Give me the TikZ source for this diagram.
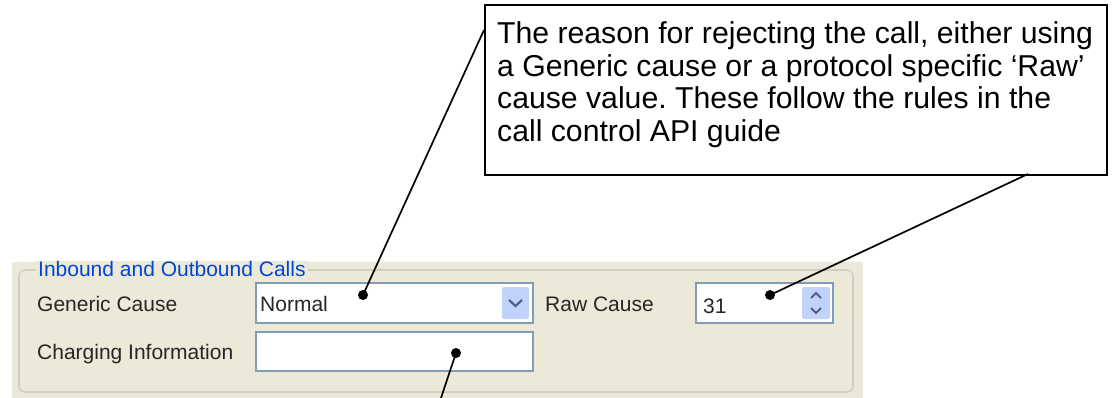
\documentclass[tikz,border=0pt]{standalone}
\usepackage{fontspec}
\setmainfont{Liberation Sans}
\frenchspacing
\usetikzlibrary{positioning,calc}
\definecolor{Panel}{HTML}{ECE9D8}
\definecolor{Frame}{HTML}{D0D0BF}
\definecolor{Field}{HTML}{7F9DB9}
\definecolor{Title}{HTML}{0046D5}
\definecolor{Btn}{HTML}{C1D3FB}
\definecolor{Glyph}{HTML}{4D6185}

\tikzset{
  lbl/.style={anchor=base west,inner sep=0pt,font=\fontsize{21}{24}\selectfont,text=black!85},
  field/.style={draw=Field,fill=white,line width=1.2pt},
  btn/.style={fill=Btn,rounded corners=2pt},
  chev/.style={draw=Glyph,line width=2.2pt},
  dot/.style={circle,fill=black,inner sep=0pt,minimum size=10pt},
  lead/.style={line width=1.7pt},
  notebox/.style={draw,line width=2.4pt,anchor=north west,minimum width=622pt,minimum height=170pt,inner sep=0pt},
}

\begin{document}
\begin{tikzpicture}[x=1pt,y=-1pt]
  \useasboundingbox (0,0) rectangle (1113,398);
  \fill[white] (0,0) rectangle (1113,398);
  % dialog panel
  \fill[Panel] (12,262) rectangle (863,398);
  \draw[Frame,line width=1.6pt,rounded corners=6pt] (19,270) rectangle (853,392);
  \node[lbl,text=Title,fill=Panel,inner xsep=2pt] (group) at (36,276) {Inbound and Outbound Calls};

  % fields
  \draw[field] (256,283) rectangle (533,323);
  \fill[btn] (502,287) rectangle (529,319);
  \draw[chev] (509,300) -- (515.5,306) -- (522,300);
  \draw[field] (256,332) rectangle (533,371);
  \draw[field] (696,283) rectangle (833,323);
  \fill[btn] (802,287) rectangle (830,319);
  \draw[chev,line width=1.8pt] (811,298) -- (816,293) -- (821,298);
  \draw[chev,line width=1.8pt] (811,308) -- (816,313) -- (821,308);

  \node[lbl] (gencause) at (37,311) {Generic Cause};
  \node[lbl] (charging) at (37,359) {Charging Information};
  \node[lbl] (rawcause) at (545,311) {Raw Cause};
  \node[lbl] (normal) at (260,311) {Normal};
  \node[lbl] (rawval) at (703,313) {31};

  % callout
  \node[notebox] (box) at (484,4) {};
  \node[anchor=north west,inner sep=0pt,align=left,font=\fontsize{30.2}{32.5}\selectfont] (note) at (497,21.5)
    {The reason for rejecting the call, either using\\
     a Generic cause or a protocol specific `Raw'\\
     cause value. These follow the rules in the\\
     call control API guide};

  \node[dot] (dgen) at (363,295) {};
  \node[dot] (draw) at (770,295) {};
  \node[dot] (dchg) at (456,353) {};
  \coordinate (tipgen) at (484,30);
  \coordinate (tipraw) at (1028,174);
  \coordinate (tipchg) at (441,398);
  \draw[lead] (dgen.center) -- (tipgen);
  \draw[lead] (draw.center) -- (tipraw);
  \draw[lead] (dchg.center) -- (tipchg);
\end{tikzpicture}
\end{document}
